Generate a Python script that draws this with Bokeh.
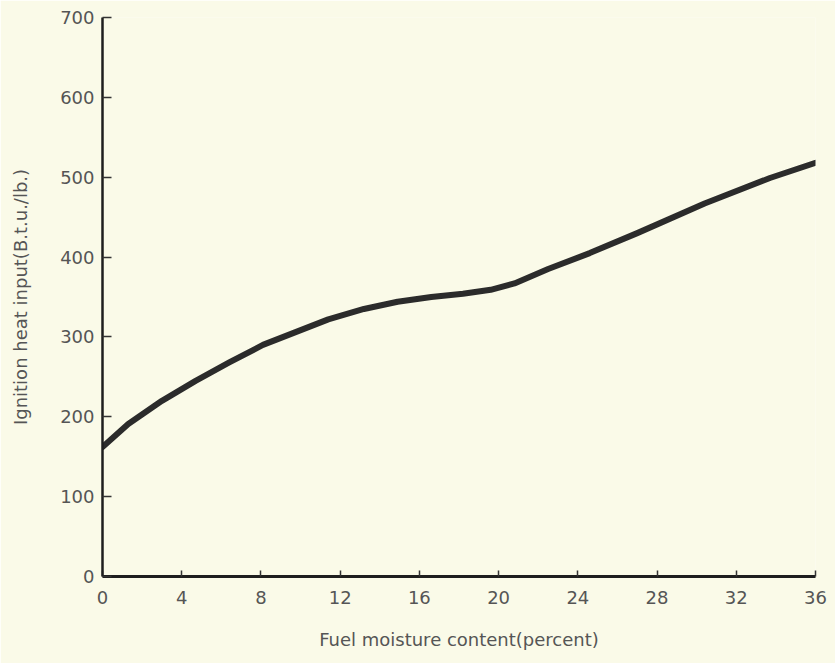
from bokeh.plotting import figure
from bokeh.models import FixedTicker, Range1d
from bokeh.embed import file_html
from bokeh.resources import INLINE

# Data
moisture = [0, 1.3, 3.0, 4.7, 6.4, 8.1, 9.75, 11.4, 13.2, 14.9, 16.6, 18.2,
            19.6, 20.8, 22.5, 24.6, 27.0, 30.4, 33.7, 36]
heat_input = [162, 191, 220, 245, 268, 290, 306, 322, 335, 344, 350, 354,
              359, 367, 385, 405, 430, 467, 499, 518]
x_ticks = [0, 4, 8, 12, 16, 20, 24, 28, 32, 36]
y_ticks = [0, 100, 200, 300, 400, 500, 600, 700]

BG = "#fafae8"
FONT = "DejaVu Sans"
TXT = "#555555"

p = figure(width=835, height=663, output_backend="svg", toolbar_location=None,
           x_range=Range1d(0, 36), y_range=Range1d(0, 700),
           min_border_left=102, min_border_right=20,
           min_border_top=17, min_border_bottom=87)
p.background_fill_color = BG
p.border_fill_color = BG
p.outline_line_color = None
p.xgrid.grid_line_color = None
p.ygrid.grid_line_color = None

p.line(moisture, heat_input, line_width=6, line_color="#2b2b2b",
       line_cap="round", line_join="round")

xa = p.xaxis[0]
xa.ticker = FixedTicker(ticks=x_ticks)
xa.axis_line_width = 3
xa.axis_line_color = "#1e1e1e"
xa.major_tick_in = 6
xa.major_tick_out = 0
xa.major_tick_line_color = "#333333"
xa.major_tick_line_width = 1.5
xa.minor_tick_line_color = None
xa.major_label_text_font = FONT
xa.major_label_text_font_size = "18px"
xa.major_label_text_color = TXT
xa.major_label_standoff = 14
xa.axis_label = "Fuel moisture content(percent)"
xa.axis_label_text_font = FONT
xa.axis_label_text_font_size = "18px"
xa.axis_label_text_font_style = "normal"
xa.axis_label_text_color = TXT
xa.axis_label_standoff = 22

ya = p.yaxis[0]
ya.ticker = FixedTicker(ticks=y_ticks)
ya.axis_line_width = 2.5
ya.axis_line_color = "#1e1e1e"
ya.major_tick_in = 9
ya.major_tick_out = 0
ya.major_tick_line_color = "#333333"
ya.major_tick_line_width = 1.5
ya.minor_tick_line_color = None
ya.major_label_text_font = FONT
ya.major_label_text_font_size = "18px"
ya.major_label_text_color = TXT
ya.major_label_standoff = 8
ya.axis_label = "Ignition heat input(B.t.u./lb.)"
ya.axis_label_text_font = FONT
ya.axis_label_text_font_size = "18px"
ya.axis_label_text_font_style = "normal"
ya.axis_label_text_color = TXT
ya.axis_label_standoff = 26

open("out.html", "w").write(file_html(p, INLINE))
